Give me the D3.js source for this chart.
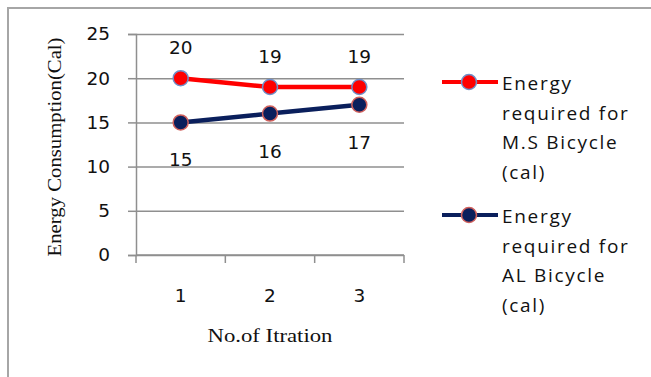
<!DOCTYPE html>
<html>
<head>
<meta charset="utf-8">
<script src="https://cdn.jsdelivr.net/npm/d3@7"></script>
<style>
  html, body { margin: 0; padding: 0; background: #fff; }
  svg { display: block; }
</style>
</head>
<body>
<svg id="chart" width="651" height="377"></svg>
<script>
// Iteration categories
const iterations = ["1", "2", "3"];
// Energy required per iteration (cal)
const msBicycle = [20, 19, 19];
const alBicycle = [15, 16, 17];
// Value axis ticks
const yTicks = [0, 5, 10, 15, 20, 25];
// Legend entries, wrapped into lines
const msLegend = ["Energy", "required for", "M.S Bicycle", "(cal)"];
const alLegend = ["Energy", "required for", "AL Bicycle", "(cal)"];
const yTitle = "Energy Consumption(Cal)";
const xTitle = "No.of Itration";

const svg = d3.select("#chart");
const plot = { left: 136, right: 404, top: 34, bottom: 255 };

// outer frame (right and bottom edges run past the view)
svg.append("rect")
  .attr("x", 8).attr("y", 8).attr("width", 660).attr("height", 400)
  .attr("fill", "none").attr("stroke", "#a6a6a6").attr("stroke-width", 2);

const x = d3.scaleBand().domain(iterations).range([plot.left, plot.right]);
const y = d3.scaleLinear().domain([0, 25]).range([plot.bottom, plot.top]);

const gridColor = "#8f8f8f";

// horizontal gridlines with left tick marks
const yAxis = d3.axisLeft(y).tickValues(yTicks).tickSize(8).tickPadding(18)
  .tickFormat(d3.format("d"));
const gy = svg.append("g").attr("transform", `translate(${plot.left},0)`).call(yAxis);
gy.select(".domain").attr("stroke", gridColor).attr("stroke-width", 1.5);
gy.selectAll(".tick line").attr("stroke", gridColor).attr("stroke-width", 1.5);
gy.selectAll(".tick text")
  .attr("font-family", "DejaVu Sans").attr("font-size", 18.5).attr("fill", "#111");
gy.selectAll(".tick").append("line")
  .attr("x1", 0).attr("x2", plot.right - plot.left)
  .attr("stroke", gridColor).attr("stroke-width", 1.5);

// category axis with boundary ticks
const gx = svg.append("g").attr("transform", `translate(0,${plot.bottom})`);
gx.append("line").attr("x1", plot.left).attr("x2", plot.right)
  .attr("stroke", gridColor).attr("stroke-width", 1.5);
const bounds = iterations.map(d => x(d)).concat([x(iterations[iterations.length - 1]) + x.bandwidth()]);
gx.selectAll("line.b").data(bounds).join("line").attr("class", "b")
  .attr("x1", d => d).attr("x2", d => d).attr("y1", 0).attr("y2", 8)
  .attr("stroke", gridColor).attr("stroke-width", 1.5);
gx.selectAll("text").data(iterations).join("text")
  .attr("x", d => x(d) + x.bandwidth() / 2).attr("y", 47)
  .attr("text-anchor", "middle")
  .attr("font-family", "DejaVu Sans").attr("font-size", 18.5).attr("fill", "#111")
  .text(d => d);

// axis titles
svg.append("text")
  .attr("transform", "translate(61,147) rotate(-90)")
  .attr("text-anchor", "middle")
  .attr("font-family", "Liberation Serif").attr("font-size", 19).attr("fill", "#111")
  .attr("textLength", 219).attr("lengthAdjust", "spacingAndGlyphs")
  .text(yTitle);
svg.append("text")
  .attr("x", 270).attr("y", 342)
  .attr("text-anchor", "middle")
  .attr("font-family", "Liberation Serif").attr("font-size", 19).attr("fill", "#111")
  .attr("textLength", 125).attr("lengthAdjust", "spacingAndGlyphs")
  .text(xTitle);

const cx = d => x(d) + x.bandwidth() / 2;
const line = d3.line().x(d => cx(d.k)).y(d => y(d.v));

const series = [
  { values: msBicycle, color: "#ff0000", outline: "#6f8fc8", labelDy: -24, legend: msLegend, ly: 82 },
  { values: alBicycle, color: "#0a1f5c", outline: "#d0605c", labelDy: 44, legend: alLegend, ly: 215 }
];

series.forEach(s => {
  const pts = iterations.map((k, i) => ({ k, v: s.values[i] }));
  svg.append("path").datum(pts).attr("d", line)
    .attr("fill", "none").attr("stroke", s.color).attr("stroke-width", 4.5);
  svg.selectAll(null).data(pts).join("circle")
    .attr("cx", d => cx(d.k)).attr("cy", d => y(d.v)).attr("r", 7.5)
    .attr("fill", s.color).attr("stroke", s.outline).attr("stroke-width", 1.5);
  svg.selectAll(null).data(pts).join("text")
    .attr("x", d => cx(d.k)).attr("y", d => y(d.v) + s.labelDy)
    .attr("text-anchor", "middle")
    .attr("font-family", "DejaVu Sans").attr("font-size", 18.5).attr("fill", "#111")
    .text(d => d.v);

  // legend entry
  const lg = svg.append("g");
  lg.append("line").attr("x1", 442).attr("x2", 498).attr("y1", s.ly).attr("y2", s.ly)
    .attr("stroke", s.color).attr("stroke-width", 4);
  lg.append("circle").attr("cx", 469).attr("cy", s.ly).attr("r", 7.5)
    .attr("fill", s.color).attr("stroke", s.outline).attr("stroke-width", 1.5);
  lg.selectAll("text").data(s.legend).join("text")
    .attr("x", 502).attr("y", (d, i) => s.ly + 8 + i * 29.5)
    .attr("font-family", "Open Sans").attr("font-size", 19).attr("fill", "#111")
    .attr("letter-spacing", 1.7)
    .text(d => d);
});
</script>
</body>
</html>
